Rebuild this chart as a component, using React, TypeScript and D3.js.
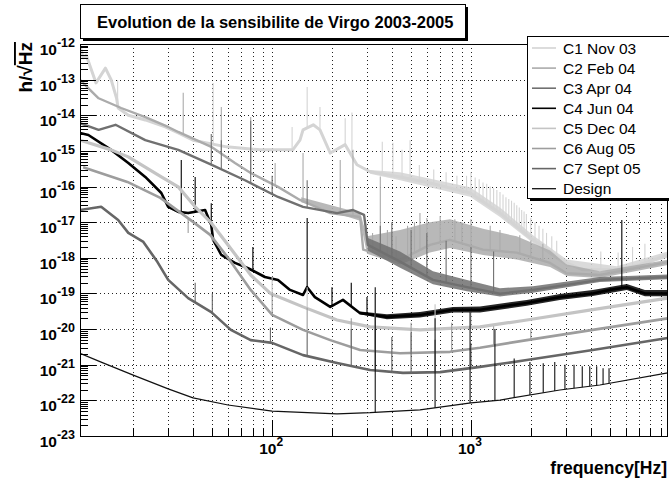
import * as d3 from "d3";

type Pt = [number, number];
type Band = [number, number, number];

// legend labels, in drawing order
const seriesNames = ["C1 Nov 03", "C2 Feb 04", "C3 Apr 04", "C4 Jun 04", "C5 Dec 04", "C6 Aug 05", "C7 Sept 05", "Design"];
const seriesColors = ["#d4d4d4", "#ababab", "#707070", "#000000", "#c4c4c4", "#9d9d9d", "#666666", "#111111"];
const seriesWidths = [3, 2.4, 2.4, 2.6, 3.2, 2.6, 2.6, 1.2];

// [frequency Hz, h/sqrt(Hz)]
const c1: Pt[] = [
  [10.8, 8.8e-13], [11.2, 4.1e-13], [11.6, 4.9e-13], [13.0, 8.1e-14], [14.5, 2.1e-13], [15.5, 9.8e-14],
  [16.5, 3.0e-14], [16.8, 1.6e-14], [18.9, 1.0e-14], [23, 7.4e-15], [29, 4.7e-15], [33.7, 3.2e-15],
  [40, 2.0e-15], [59, 1.3e-15], [87, 1.07e-15], [127, 1.07e-15], [138, 2.0e-15], [143, 3.9e-15],
  [161, 5.4e-15], [174, 3.9e-15], [196, 8.7e-16], [233, 1.5e-15], [267, 4.1e-16], [311, 2.6e-16],
  [440, 1.86e-16], [622, 1.26e-16], [990, 6.6e-17], [1400, 1.8e-17], [2050, 3.2e-18], [3030, 7.2e-19],
  [3650, 4.6e-19], [5420, 4.6e-19], [7000, 6.3e-19], [9770, 1.2e-18],
];
const c1Peaks: Pt[] = [
  [16.7, 9.8e-14], [50.5, 8e-14], [126, 4.7e-15], [150, 6.2e-14], [174, 1.7e-14], [233, 8.3e-15], [252, 1.2e-14],
  [358, 1.8e-15], [405, 1.7e-15], [450, 1.07e-15], [494, 2.0e-15], [550, 4e-16], [650, 3e-16], [750, 2.5e-16],
  [850, 2e-16], [950, 2e-16], [1000, 2.5e-16], [1050, 1.8e-16], [1100, 1.6e-16], [1150, 1.3e-16], [1200, 1.2e-16],
  [1250, 1e-16], [1300, 9e-17], [1350, 8e-17], [1400, 7e-17], [1450, 6e-17], [1500, 5e-17], [1550, 4.5e-17],
  [1600, 4e-17], [1650, 3.5e-17], [1700, 3e-17], [1750, 2.6e-17], [1800, 2.2e-17], [1850, 2e-17], [1900, 1.7e-17],
  [2000, 1.3e-17], [2100, 1e-17], [2200, 8e-18], [2300, 6.5e-18], [2400, 5e-18], [2550, 4e-18], [2700, 3e-18],
  [4500, 1.5e-18], [5500, 1.4e-18], [6500, 2e-18], [7500, 2.5e-18],
];
// noise envelope [f, low, high]
const c1Band: Band[] = [
  [311, 2.3e-16, 2.9e-16], [440, 1.5e-16, 2.5e-16], [990, 5.2e-17, 9.5e-17], [1400, 1.4e-17, 2.6e-17],
  [2050, 2.6e-18, 4.3e-18], [3030, 5.7e-19, 9e-19], [5420, 3.8e-19, 5.8e-19], [9770, 1e-18, 1.5e-18],
];

const c2: Pt[] = [
  [10.8, 9.8e-14], [13.4, 3.0e-14], [17.4, 1.6e-14], [23, 8.9e-15], [30, 4.7e-15], [33.7, 3.4e-15],
  [49.4, 1.3e-15], [65, 4.6e-16], [78, 2.4e-16], [107, 9.8e-17], [138, 4.2e-17], [196, 1.8e-17],
  [277, 1.4e-17], [287, 1.7e-18], [440, 8.7e-19], [622, 2.3e-18], [784, 3.2e-18], [1150, 1.7e-18],
  [1700, 1.4e-18], [2500, 7.2e-19], [3030, 3.7e-19], [4450, 3.3e-19], [9770, 7.6e-19],
];
const c2Peaks: Pt[] = [
  [35.7, 4.3e-14], [55.5, 1.7e-14], [78, 8.9e-15], [103.5, 4.6e-16], [143, 8.7e-16], [220, 5.6e-16],
  [255, 1.07e-15], [320, 5e-18], [350, 1.9e-16], [380, 6e-18], [420, 4e-18], [480, 8e-18], [520, 1e-17],
  [554, 1.8e-17], [600, 1.3e-17], [700, 1.5e-17], [830, 1.2e-17], [900, 1e-17], [1000, 1.2e-17],
  [1250, 8e-18], [1400, 6e-18], [1760, 4.3e-18], [2000, 3e-18], [2300, 2.5e-18],
];
const c2Band: Band[] = [
  [140, 3.6e-17, 5e-17], [277, 1.1e-17, 1.8e-17], [300, 1.3e-18, 4e-18], [440, 6.5e-19, 6e-18],
  [622, 1.4e-18, 1e-17], [784, 1.9e-18, 1.2e-17], [1150, 1.2e-18, 6.5e-18], [1700, 9e-19, 4e-18],
  [2500, 5.5e-19, 1.6e-18], [3030, 3.1e-19, 6.5e-19], [4450, 2.7e-19, 4.2e-19], [9770, 6.3e-19, 8.8e-19],
];

const c3: Pt[] = [
  [10.8, 6.0e-15], [13.4, 3.9e-15], [16.3, 5.4e-15], [23, 2.0e-15], [33.7, 1.07e-15], [49.4, 4.1e-16],
  [73, 1.5e-16], [107, 5.1e-17], [143, 2.7e-17], [212, 1.8e-17], [255, 2.2e-17], [290, 1.6e-17],
  [303, 2.3e-18], [440, 7.8e-19], [644, 2.4e-19], [955, 1.5e-19], [1400, 9.8e-20], [2050, 1.26e-19],
  [3030, 1.74e-19], [4450, 2.4e-19], [9770, 2.9e-19],
];
const c3Peaks: Pt[] = [
  [49.4, 3e-15], [55.5, 2e-15], [78, 7e-15], [100, 2e-16], [150, 1.5e-16], [350, 8e-18], [400, 1e-17],
  [500, 6e-18], [600, 5e-18], [750, 3e-18], [1000, 2e-18], [1300, 1.5e-18],
];
const c3Band: Band[] = [
  [303, 1.6e-18, 3.6e-18], [440, 5.3e-19, 1.5e-18], [644, 1.8e-19, 4.2e-19], [955, 1.15e-19, 2.4e-19],
  [1400, 8.2e-20, 1.4e-19], [2050, 1.05e-19, 1.6e-19], [4450, 2.1e-19, 2.9e-19], [9770, 2.5e-19, 3.4e-19],
];

const c4: Pt[] = [
  [10.8, 3.2e-15], [11.9, 2.8e-15], [15.5, 1.07e-15], [18.9, 4.6e-16], [23, 1.86e-16], [27.7, 6.6e-17],
  [30, 2.7e-17], [33.7, 1.95e-17], [37.8, 1.8e-17], [46, 2.2e-17], [49.4, 8.3e-18], [50.5, 3.2e-18],
  [55.5, 1.2e-18], [65, 7.2e-19], [75.7, 5.1e-19], [92, 2.9e-19], [107, 2.4e-19], [123, 1.26e-19],
  [143, 9.1e-20], [150, 1.5e-19], [164, 7.9e-20], [196, 4.2e-20], [227, 6.6e-20], [277, 2.8e-20],
  [378, 2.2e-20], [554, 2.5e-20], [812, 3.5e-20], [1110, 3.5e-20], [1910, 5.4e-20], [2800, 7.9e-20],
  [4100, 1.0e-19], [5000, 1.26e-19], [6080, 1.5e-19], [7500, 1.0e-19], [9770, 1.0e-19],
];
const c4Peaks: Pt[] = [
  [34.9, 5.6e-16], [41, 1.86e-16], [49.4, 3.4e-17], [80, 2.0e-18], [150, 1.3e-17], [200, 1.5e-19],
  [250, 2e-19], [300, 8e-20], [5740, 1.15e-17],
];
const c4Band: Band[] = [
  [277, 2.6e-20, 3.1e-20], [378, 1.9e-20, 2.6e-20], [554, 2.1e-20, 3e-20], [812, 2.9e-20, 4.2e-20],
  [1110, 2.9e-20, 4.3e-20], [1910, 4.5e-20, 6.6e-20], [2800, 6.6e-20, 9.6e-20], [4100, 8.5e-20, 1.25e-19],
  [6080, 1.25e-19, 1.85e-19], [7500, 8.3e-20, 1.25e-19], [9770, 8.3e-20, 1.25e-19],
];

const c5: Pt[] = [
  [10.8, 2.0e-15], [15.5, 1.07e-15], [18.9, 6.8e-16], [27.7, 1.86e-16], [33.7, 9.8e-17], [41, 2.7e-17],
  [49.4, 9.5e-18], [60, 2.3e-18], [78, 3.3e-19], [98, 1.0e-19], [143, 4.2e-20], [212, 1.8e-20],
  [311, 1.15e-20], [554, 9.5e-21], [1110, 1.15e-20], [1910, 1.8e-20], [4100, 3.5e-20], [9770, 7.4e-20],
];
const c5Peaks: Pt[] = [[100, 3e-19], [150, 1.5e-19], [330, 1e-19], [660, 5e-20], [1000, 3e-20]];

const c6: Pt[] = [
  [11.2, 3.5e-16], [18.7, 1.35e-16], [27.4, 4.8e-17], [40, 1.02e-17], [48.8, 4.4e-18], [60, 1.0e-18],
  [78, 1.26e-19], [100, 2.5e-20], [143, 9.5e-21], [196, 4.9e-21], [277, 2.6e-21], [440, 2.1e-21],
  [784, 2.3e-21], [1110, 3.0e-21], [1910, 4.9e-21], [4100, 9.5e-21], [9770, 2.0e-20],
];
const c6Peaks: Pt[] = [
  [37.8, 5e-18], [50, 3e-18], [100, 1e-19], [150, 4e-20], [250, 2e-20], [330, 2.5e-20], [500, 1.5e-20],
  [800, 1.5e-20], [1300, 1.2e-20], [2000, 1e-20],
];

const c7: Pt[] = [
  [10.8, 2.2e-17], [13.8, 2.7e-17], [16.8, 1.15e-17], [18.9, 5.0e-18], [22.5, 2.8e-18], [26.5, 7.6e-19],
  [30, 2.4e-19], [37.8, 7.4e-20], [49.4, 3.0e-20], [62, 9.5e-21], [78, 4.9e-21], [100, 4.1e-21],
  [143, 1.86e-21], [212, 1.12e-21], [311, 7.1e-22], [455, 5.9e-22], [700, 6.2e-22], [1110, 8.7e-22],
  [1910, 1.35e-21], [4100, 2.6e-21], [9770, 5.6e-21],
];
const c7Peaks: Pt[] = [
  [41, 2e-19], [50, 1e-19], [98, 1.1e-20], [150, 8e-21], [250, 1e-20], [330, 1e-20], [400, 6e-21],
  [500, 8e-21], [660, 5e-21], [1000, 4e-21],
];

const design: Pt[] = [
  [10.8, 2.1e-21], [13.7, 1.2e-21], [20, 5.1e-22], [30, 2.1e-22], [40, 1.17e-22], [60, 7.4e-23],
  [100, 5.0e-23], [212, 4.2e-23], [311, 4.5e-23], [554, 5.4e-23], [1000, 8.5e-23], [1400, 1.02e-22],
  [2800, 1.95e-22], [4450, 2.7e-22], [9770, 5.9e-22],
];
const designPeaks: Pt[] = [
  [330, 1.5e-19], [660, 2e-20], [990, 3e-20], [1320, 1e-20], [1650, 1.5e-21], [1980, 1.2e-21],
  [2310, 1.1e-21], [2640, 1.2e-21], [2970, 1e-21], [3300, 1e-21], [3630, 9e-22], [3960, 9e-22],
  [4290, 9e-22], [4620, 8e-22], [4950, 8e-22],
];

const curves = [c1, c2, c3, c4, c5, c6, c7, design];
const peaks = [c1Peaks, c2Peaks, c3Peaks, c4Peaks, c5Peaks, c6Peaks, c7Peaks, designPeaks];
const bands: (Band[] | null)[] = [c1Band, c2Band, c3Band, c4Band, null, null, null, null];

const yExponents = [-12, -13, -14, -15, -16, -17, -18, -19, -20, -21, -22, -23];
const xMajors = [100, 1000];
const xMajorLabels = ["2", "3"];
const minorMultipliers = [2, 3, 4, 5, 6, 7, 8, 9];

const titleText = "Evolution de la sensibilite de Virgo 2003-2005";

// base level of a curve at frequency f (log-log between read points)
function baseAt(pts: Pt[], f: number) {
  const i = Math.max(0, Math.min(pts.length - 2, d3.bisector((d: Pt) => d[0]).right(pts, f) - 1));
  const [f0, h0] = pts[i];
  const [f1, h1] = pts[i + 1];
  const t = (Math.log10(f) - Math.log10(f0)) / (Math.log10(f1) - Math.log10(f0));
  return Math.pow(10, Math.log10(h0) + t * (Math.log10(h1) - Math.log10(h0)));
}

export default function App() {
  const W = 669, H = 479;
  const L = 80, R = 668, T = 44, B = 436;
  const x = d3.scaleLog().domain([10.8, 9800]).range([L, R]);
  const y = d3.scaleLog().domain([1e-23, 1e-12]).range([B, T]);
  const line = d3.line<Pt>().x((d) => x(d[0])).y((d) => y(d[1]));
  const area = d3.area<Band>().x((d) => x(d[0])).y0((d) => y(d[1])).y1((d) => y(d[2]));

  const xTicks: { v: number; major: boolean }[] = [];
  [10, 100, 1000].forEach((dec) => {
    if (dec >= 100) xTicks.push({ v: dec, major: true });
    minorMultipliers.forEach((m) => {
      const v = m * dec;
      if (v <= 9800) xTicks.push({ v, major: false });
    });
  });
  const yTicks: { v: number; major: boolean }[] = [];
  yExponents.forEach((e) => {
    yTicks.push({ v: Math.pow(10, e), major: true });
    if (e < -12) minorMultipliers.forEach((m) => yTicks.push({ v: m * Math.pow(10, e), major: false }));
  });

  const font = "'Liberation Sans', Arial, Helvetica, sans-serif";
  const legendY0 = 48, legendStep = 20.1;

  return (
    <svg width={W} height={H} style={{ position: "absolute", left: 0, top: 0, background: "#fff" }} fontFamily={font}>
      <defs>
        <clipPath id="plotClip">
          <rect x={L} y={T} width={R - L} height={B - T} />
        </clipPath>
      </defs>
      <rect x={0} y={0} width={W} height={H} fill="#fff" />

      {/* grid */}
      <g stroke="#222" strokeWidth={1} strokeDasharray="1,3">
        {xTicks.map((t, i) => (
          <line key={"gx" + i} x1={Math.round(x(t.v)) + 0.5} x2={Math.round(x(t.v)) + 0.5} y1={T} y2={B} />
        ))}
        {yExponents.slice(1, -1).map((e) => (
          <line key={"gy" + e} x1={L} x2={R} y1={Math.round(y(Math.pow(10, e))) + 0.5} y2={Math.round(y(Math.pow(10, e))) + 0.5} />
        ))}
      </g>

      {/* curves */}
      <g clipPath="url(#plotClip)" fill="none" strokeLinejoin="round">
        {curves.map((pts, i) => (
          <g key={"c" + i} stroke={seriesColors[i]}>
            {bands[i] && <path d={area(bands[i] as Band[]) || ""} fill={seriesColors[i]} fillOpacity={0.85} stroke="none" />}
            {peaks[i].map((p, j) => (
              <line key={j} x1={x(p[0])} x2={x(p[0])} y1={y(baseAt(pts, p[0]))} y2={y(p[1])} strokeWidth={1.1} />
            ))}
            <path d={line(pts) || ""} strokeWidth={seriesWidths[i]} />
          </g>
        ))}
      </g>

      {/* frame and ticks */}
      <rect x={L + 0.5} y={T + 0.5} width={R - L - 1} height={B - T} fill="none" stroke="#000" strokeWidth={1} />
      <g stroke="#000" strokeWidth={1}>
        {yTicks.map((t, i) => {
          const yy = Math.round(y(t.v)) + 0.5;
          return <line key={"ty" + i} x1={L} x2={L + (t.major ? 16 : 8)} y1={yy} y2={yy} />;
        })}
        {xTicks.map((t, i) => {
          const xx = Math.round(x(t.v)) + 0.5;
          return <line key={"tx" + i} x1={xx} x2={xx} y1={B} y2={B - (t.major ? 16 : 8)} />;
        })}
      </g>

      {/* y labels */}
      <g fontWeight="bold" textAnchor="end" fill="#000">
        {yExponents.map((e) => (
          <text key={"ly" + e} x={75} y={y(Math.pow(10, e)) + 11} fontSize={15.5}>
            10
            <tspan dy={-8} fontSize={12.5}>{String(e)}</tspan>
          </text>
        ))}
      </g>
      {/* x labels */}
      <g fontWeight="bold" fill="#000">
        {xMajors.map((v, i) => (
          <text key={"lx" + v} x={x(v) - 13} y={454} fontSize={15.5}>
            10
            <tspan dy={-8} fontSize={12}>{xMajorLabels[i]}</tspan>
          </text>
        ))}
      </g>
      <text x={667} y={474} textAnchor="end" fontWeight="bold" fontSize={17.5}>frequency[Hz]</text>
      <text transform="translate(32,42) rotate(-90)" textAnchor="end" fontWeight="bold" fontSize={19}>
        h/√<tspan style={{ textDecoration: "overline" }}>Hz</tspan>
      </text>

      {/* title */}
      <rect x={83} y={7} width={385} height={34} fill="#000" />
      <rect x={80.5} y={4.5} width={385} height={34} fill="#fff" stroke="#000" />
      <text x={97} y={28} fontWeight="bold" fontSize={16.5}>{titleText}</text>

      {/* legend */}
      <rect x={530} y={39} width={150} height={162} fill="#000" />
      <rect x={527.5} y={36.5} width={150} height={162} fill="#fff" stroke="#000" />
      {seriesNames.map((n, i) => {
        const yy = legendY0 + i * legendStep;
        return (
          <g key={"lg" + i}>
            <line x1={532} x2={556} y1={yy} y2={yy} stroke={seriesColors[i]} strokeWidth={i === 7 ? 1.3 : 1.6} />
            <text x={563} y={yy + 5.5} fontSize={15.5}>{n}</text>
          </g>
        );
      })}
    </svg>
  );
}
